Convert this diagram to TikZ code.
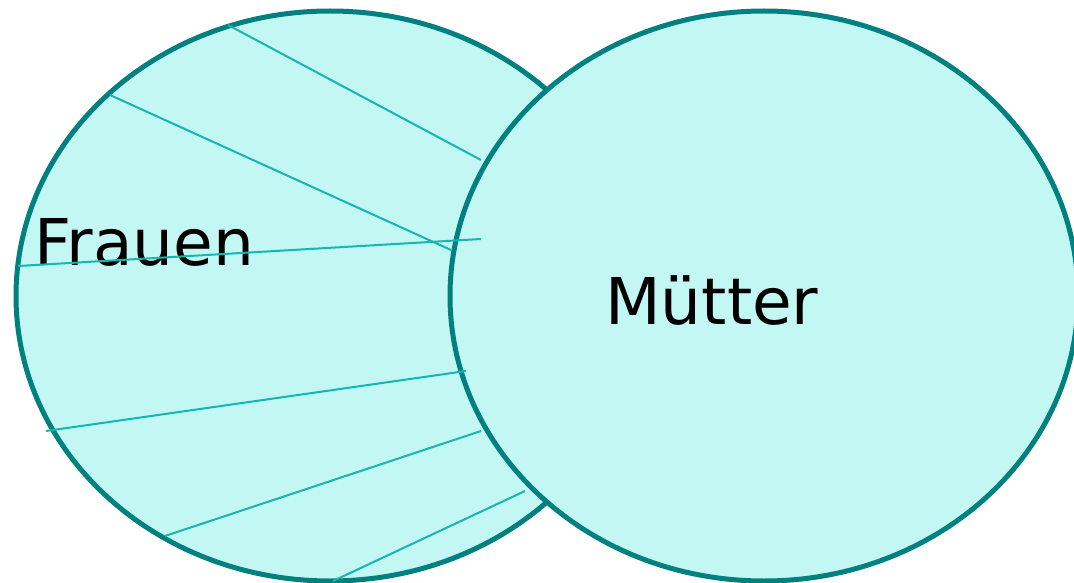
\documentclass[tikz,border=0pt]{standalone}
\usepackage{fontspec}
\setmainfont{DejaVu Sans}
\usepackage{tikz}
\usetikzlibrary{shapes.geometric}
\usetikzlibrary{positioning}
\definecolor{setfill}{HTML}{C2F7F3}
\definecolor{setborder}{HTML}{00807E}
\definecolor{hatchline}{HTML}{17B6AE}
\tikzstyle{set} = [ellipse, minimum width=628pt, minimum height=570pt, inner sep=0pt, fill=setfill, draw=setborder, line width=5pt]
\tikzstyle{setlabel} = [anchor=base west, inner sep=0pt, font=\fontsize{64.5}{64.5}\selectfont]
\tikzstyle{hatch} = [draw=hatchline, line width=2pt]

\begin{document}
\begin{tikzpicture}[x=1pt, y=-1pt]
  \useasboundingbox (0,0) rectangle (1074,583);

  \node (frauen) [set] at (330,296) {};
  \node (frauentext) [setlabel] at (34,265) {Frauen};
  \node (muetter) [set] at (764,296) {};
  \node (muettertext) [setlabel] at (605,324) {Mütter};

  % Schraffur
  \draw [hatch] (228,25) -- (481,160);
  \draw [hatch] (110,95) -- (451,250);
  \draw [hatch] (18,266) -- (481,239);
  \draw [hatch] (46,431) -- (466,371);
  \draw [hatch] (165,536) -- (481,431);
  \draw [hatch] (333,581) -- (525,491);
\end{tikzpicture}
\end{document}
